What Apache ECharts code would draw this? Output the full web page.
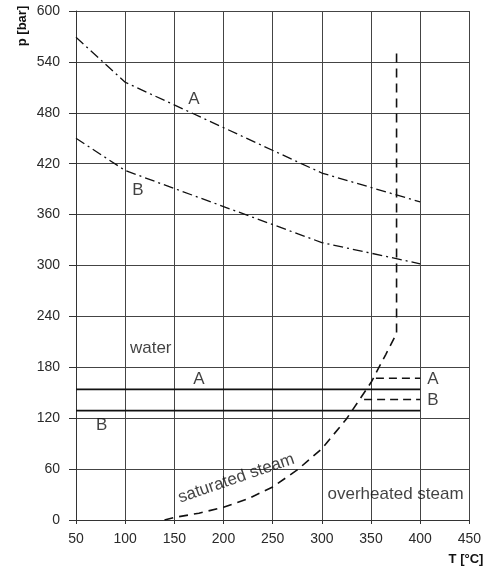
<!DOCTYPE html>
<html><head><meta charset="utf-8">
<script src="https://cdn.jsdelivr.net/npm/echarts@6/dist/echarts.min.js"></script>
<style>html,body{margin:0;padding:0;background:#fff}#c{width:484px;height:568px}</style>
</head><body><div id="c"></div>
<script>
// Data (T in °C, p in bar)
const curveA = [[50,569],[100,516],[300,409],[400,375]];
const curveB = [[50,450],[100,412],[300,327],[400,302]];
const lineA = [[50,154],[400,154]];
const lineB = [[50,129],[400,129]];
const dashA = [[355,167],[400,167]];
const dashB = [[343,142],[400,142]];
const saturation = [[140,0],[150,3],[175,8],[200,15],[225,25],[250,39],[275,59],[300,84],[325,119],[350,162],[365,195],[376,220],[376,557]];
const textLabels = [
  {name:'A', value:[170,496], rot:0},
  {name:'B', value:[113,389], rot:0},
  {name:'water', value:[126,202], rot:0},
  {name:'A', value:[175,166], rot:0},
  {name:'B', value:[76,112], rot:0},
  {name:'A', value:[413,166], rot:0},
  {name:'B', value:[413,141], rot:0},
  {name:'overheated steam', value:[375,30], rot:0},
  {name:'saturated steam', value:[213,49], rot:19}
];
const xTicks = {min:50, max:450, interval:50};
const yTicks = {min:0, max:600, interval:60};

const chart = echarts.init(document.getElementById('c'));
const font = 'Liberation Sans, Arial, sans-serif';
function line(data, type, width){
  return {type:'line', data, symbol:'none', silent:true, animation:false,
    lineStyle:{color:'#111', width, type}};
}
chart.setOption({
  animation:false,
  grid:{left:76, right:13, top:11, bottom:48},
  xAxis:{type:'value', min:xTicks.min, max:xTicks.max, interval:xTicks.interval,
    axisLine:{show:true, lineStyle:{color:'#333', width:1}},
    axisTick:{show:true, length:4, lineStyle:{color:'#333'}},
    axisLabel:{color:'#2a2a2a', fontSize:14, fontFamily:font, margin:12},
    splitLine:{show:true, lineStyle:{color:'#444', width:1}}},
  yAxis:{type:'value', min:yTicks.min, max:yTicks.max, interval:yTicks.interval,
    axisLine:{show:true, lineStyle:{color:'#333', width:1}},
    axisTick:{show:true, length:7, lineStyle:{color:'#333'}},
    axisLabel:{color:'#2a2a2a', fontSize:14, fontFamily:font, margin:16},
    splitLine:{show:true, lineStyle:{color:'#444', width:1}}},
  graphic:[
    {type:'text', x:22, y:26, rotation:Math.PI/2, style:{text:'p [bar]', font:'bold 13px '+font, fill:'#111', textAlign:'center', textVerticalAlign:'middle'}},
    {type:'text', x:466, y:559, style:{text:'T [°C]', font:'bold 13px '+font, fill:'#111', textAlign:'center', textVerticalAlign:'middle'}}
  ],
  series:[
    line(curveA, [10,4,2,4], 1.3),
    line(curveB, [10,4,2,4], 1.3),
    line(lineA, 'solid', 1.8),
    line(lineB, 'solid', 1.8),
    line(dashA, [8,5], 1.5),
    line(dashB, [8,5], 1.5),
    line(saturation, [9,6], 1.6),
    {type:'scatter', symbolSize:0, silent:true, animation:false,
      data: textLabels.map(d=>({name:d.name, value:d.value,
        label:{show:true, position:'inside', formatter:d.name, rotate:d.rot, color:'#111', fontSize:17, fontFamily:font}}))}
  ]
});
</script></body></html>
